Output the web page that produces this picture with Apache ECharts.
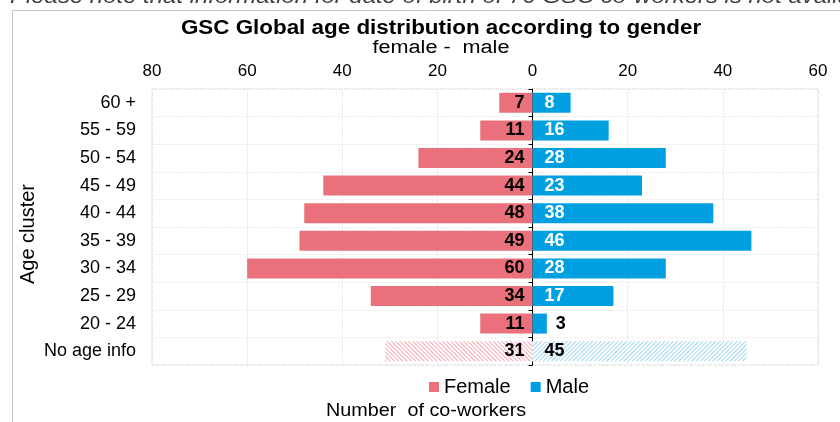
<!DOCTYPE html>
<html>
<head>
<meta charset="utf-8">
<script src="https://cdn.jsdelivr.net/npm/echarts@6/dist/echarts.min.js"></script>
<style>
  html, body { margin: 0; padding: 0; background: #fff; }
  #chart { width: 840px; height: 422px; }
</style>
</head>
<body>
<div id="chart"></div>
<script>
// Age clusters, top to bottom
const categories = ['60 +', '55 - 59', '50 - 54', '45 - 49', '40 - 44', '35 - 39', '30 - 34', '25 - 29', '20 - 24', 'No age info'];
// Head counts per cluster
const femaleValues = [7, 11, 24, 44, 48, 49, 60, 34, 11, 31];
const maleValues = [8, 16, 28, 23, 38, 46, 28, 17, 3, 45];
// Axis ticks (female side shown to the left of zero)
const axisMin = -80, axisMax = 60, axisStep = 20;
const noInfoCategory = 'No age info';

const FEMALE = '#EA717B';
const MALE = '#00A0E0';
const FONT = 'Liberation Sans, Arial, sans-serif';

// Light diagonal hatching for the records without a date of birth
function hatchStyle(lineColor, angle) {
  return {
    color: '#ffffff',
    decal: {
      symbol: 'rect', symbolSize: 1,
      color: lineColor, backgroundColor: '#ffffff',
      dashArrayX: [1, 0], dashArrayY: [1, 2],
      rotation: angle
    }
  };
}

const femaleData = categories.map((cat, i) => {
  const item = { value: -femaleValues[i] };
  if (cat === noInfoCategory) item.itemStyle = hatchStyle('#F2A9AF', Math.PI / 4);
  return item;
});
const maleData = categories.map((cat, i) => {
  const v = maleValues[i];
  const item = { value: v };
  if (cat === noInfoCategory) {
    item.itemStyle = hatchStyle('#9ED5EF', -Math.PI / 4);
    item.label = { color: '#000' };
  } else if (v < 5) {
    item.label = { position: 'right', color: '#000', distance: 9 };
  }
  return item;
});

const chart = echarts.init(document.getElementById('chart'), null, { renderer: 'canvas' });

chart.setOption({
  animation: false,
  textStyle: { fontFamily: FONT },
  graphic: [
    {
      type: 'text', x: 10, y: 8, scaleX: 1.14, silent: true,
      style: {
        text: 'Please note that information for date of birth of 76 GSC co-workers is not available',
        font: 'italic 21px ' + FONT, fill: '#404040', verticalAlign: 'bottom'
      }
    },
    {
      type: 'polyline', silent: true,
      shape: { points: [[12.5, 422], [12.5, 10.5], [840, 10.5]] },
      style: { stroke: '#C4C4C4', lineWidth: 1, fill: null }
    },
    {
      type: 'text', x: 441, y: 28, scaleX: 1.12, silent: true,
      style: {
        text: 'GSC Global age distribution according to gender',
        font: 'bold 20px ' + FONT, fill: '#000', align: 'center', verticalAlign: 'middle'
      }
    },
    {
      type: 'text', x: 441, y: 48, scaleX: 1.2, silent: true,
      style: {
        text: 'female -  male',
        font: '18px ' + FONT, fill: '#000', align: 'center', verticalAlign: 'middle'
      }
    },
    {
      type: 'text', x: 326, y: 411, scaleX: 1.1, silent: true,
      style: {
        text: 'Number  of co-workers',
        font: '18px ' + FONT, fill: '#000', align: 'left', verticalAlign: 'middle'
      }
    }
  ],
  legend: {
    data: ['Female', 'Male'],
    left: 424, top: 372,
    icon: 'rect', itemWidth: 10, itemHeight: 10, itemGap: 20,
    textStyle: { fontSize: 20, color: '#000', fontFamily: FONT }
  },
  grid: {
    left: 152, right: 22, top: 89, bottom: 57,
    show: true, borderColor: '#C8C8C8', borderWidth: 1, borderType: 'dotted',
    backgroundColor: 'transparent'
  },
  xAxis: {
    type: 'value', position: 'top',
    min: axisMin, max: axisMax, interval: axisStep,
    axisLine: { show: false }, axisTick: { show: false },
    axisLabel: {
      formatter: v => String(Math.abs(v)),
      fontSize: 17, color: '#000', margin: 9, fontFamily: FONT
    },
    splitLine: { show: true, lineStyle: { color: '#E8E8E8', type: [2, 1] } }
  },
  yAxis: [
    {
      type: 'category', data: categories, inverse: true, position: 'left',
      axisLine: { show: false, onZero: false }, axisTick: { show: false },
      axisLabel: { fontSize: 18, color: '#000', margin: 16, fontFamily: FONT },
      splitLine: { show: true, lineStyle: { color: '#EDEDED', type: [2, 1] } },
      name: 'Age cluster', nameLocation: 'middle', nameGap: 114, nameRotate: 90,
      nameMoveOverlap: false,
      nameTextStyle: { fontSize: 20, color: '#000', fontFamily: FONT, padding: [0, 14, 0, 0] }
    },
    {
      type: 'category', data: categories, inverse: true, position: 'left',
      axisLine: { show: true, onZero: true, lineStyle: { color: '#000', width: 1 } },
      axisTick: { show: true, length: 4, lineStyle: { color: '#000' } },
      axisLabel: { show: false },
      splitLine: { show: false }
    }
  ],
  series: [
    {
      name: 'Female', type: 'bar', yAxisIndex: 0,
      data: femaleData, barWidth: 20, barGap: '-100%',
      itemStyle: { color: FEMALE },
      label: {
        show: true, position: 'insideRight', distance: 8,
        formatter: p => String(Math.abs(p.value)),
        fontSize: 18, fontWeight: 'bold', color: '#000', fontFamily: FONT
      }
    },
    {
      name: 'Male', type: 'bar', yAxisIndex: 0,
      data: maleData, barWidth: 20, barGap: '-100%',
      itemStyle: { color: MALE },
      label: {
        show: true, position: 'insideLeft', distance: 12,
        formatter: p => String(Math.abs(p.value)),
        fontSize: 18, fontWeight: 'bold', color: '#fff', fontFamily: FONT
      }
    }
  ]
});
</script>
</body>
</html>
